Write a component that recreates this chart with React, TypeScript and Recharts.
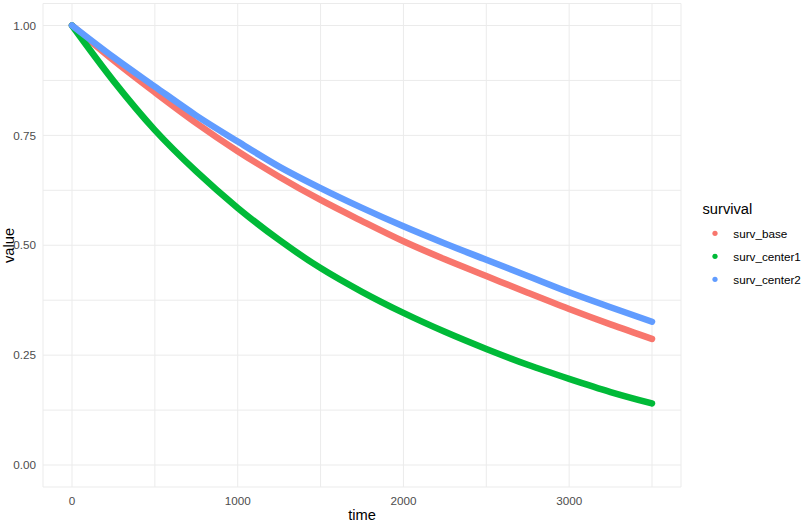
import { LineChart, Line, XAxis, YAxis, CartesianGrid, ReferenceLine } from "recharts";

const times = [0, 250, 500, 750, 1000, 1250, 1500, 1750, 2000, 2250, 2500, 2750, 3000, 3250, 3500];
const survBase = [1, 0.921, 0.848, 0.778, 0.714, 0.656, 0.603, 0.555, 0.509, 0.468, 0.43, 0.392, 0.355, 0.32, 0.287];
const survCenter1 = [1, 0.874, 0.762, 0.668, 0.585, 0.512, 0.448, 0.394, 0.346, 0.303, 0.264, 0.228, 0.196, 0.166, 0.14];
const survCenter2 = [1, 0.928, 0.861, 0.795, 0.736, 0.679, 0.63, 0.585, 0.543, 0.504, 0.467, 0.43, 0.393, 0.359, 0.326];

const xTicks = [0, 1000, 2000, 3000];
const xMinor = [500, 1500, 2500, 3500];
const yTicks = [0, 0.25, 0.5, 0.75, 1];
const yMinor = [0.125, 0.375, 0.625, 0.875];

const SERIES = [
  { key: "surv_base", color: "#F8766D" },
  { key: "surv_center1", color: "#00BA38" },
  { key: "surv_center2", color: "#619CFF" },
];

const rows = times.map((t, i) => ({
  time: t,
  surv_base: survBase[i],
  surv_center1: survCenter1[i],
  surv_center2: survCenter2[i],
}));

const FONT = "'Liberation Sans', Arial, sans-serif";
const GRID = "#EBEBEB";

export default function App() {
  return (
    <div style={{ position: "absolute", left: 0, top: 0, width: 811, height: 527, background: "#fff", fontFamily: FONT }}>
      <LineChart
        width={811}
        height={527}
        data={rows}
        margin={{ top: 3.5, right: 130, bottom: 0, left: 0 }}
      >
        <CartesianGrid stroke={GRID} strokeWidth={1} />
        {xMinor.map((v) => (
          <ReferenceLine key={"x" + v} x={v} stroke={GRID} strokeWidth={1} />
        ))}
        {yMinor.map((v) => (
          <ReferenceLine key={"y" + v} y={v} stroke={GRID} strokeWidth={1} />
        ))}
        <XAxis
          dataKey="time"
          type="number"
          domain={[-175, 3675]}
          ticks={xTicks}
          height={40}
          axisLine={false}
          tickLine={false}
          tickSize={0}
          tickMargin={9.7}
          tick={{ fontSize: 11.7, fill: "#4D4D4D", fontFamily: FONT }}
        />
        <YAxis
          type="number"
          domain={[-0.05, 1.05]}
          ticks={yTicks}
          width={43}
          axisLine={false}
          tickLine={false}
          tickSize={0}
          tickMargin={7}
          tickFormatter={(v) => v.toFixed(2)}
          tick={{ fontSize: 11.7, fill: "#4D4D4D", fontFamily: FONT }}
        />
        {SERIES.map((s) => (
          <Line
            key={s.key}
            dataKey={s.key}
            type="monotone"
            stroke={s.color}
            strokeWidth={6.5}
            strokeLinecap="round"
            dot={false}
            isAnimationActive={false}
          />
        ))}
      </LineChart>
      <svg
        width={811}
        height={527}
        style={{ position: "absolute", left: 0, top: 0, pointerEvents: "none" }}
        fontFamily={FONT}
      >
        <text x={362} y={520} textAnchor="middle" fontSize={14.7} fill="#000">
          time
        </text>
        <text transform="translate(13.5,245.5) rotate(-90)" textAnchor="middle" fontSize={14.7} fill="#000">
          value
        </text>
        <text x={702.5} y={213.5} fontSize={14.7} fill="#000">
          survival
        </text>
        {SERIES.map((s, i) => (
          <g key={s.key}>
            <circle cx={715} cy={233.3 + i * 23} r={2.6} fill={s.color} />
            <text x={733.3} y={237.6 + i * 23} fontSize={11.7} fill="#000">
              {s.key}
            </text>
          </g>
        ))}
      </svg>
    </div>
  );
}
